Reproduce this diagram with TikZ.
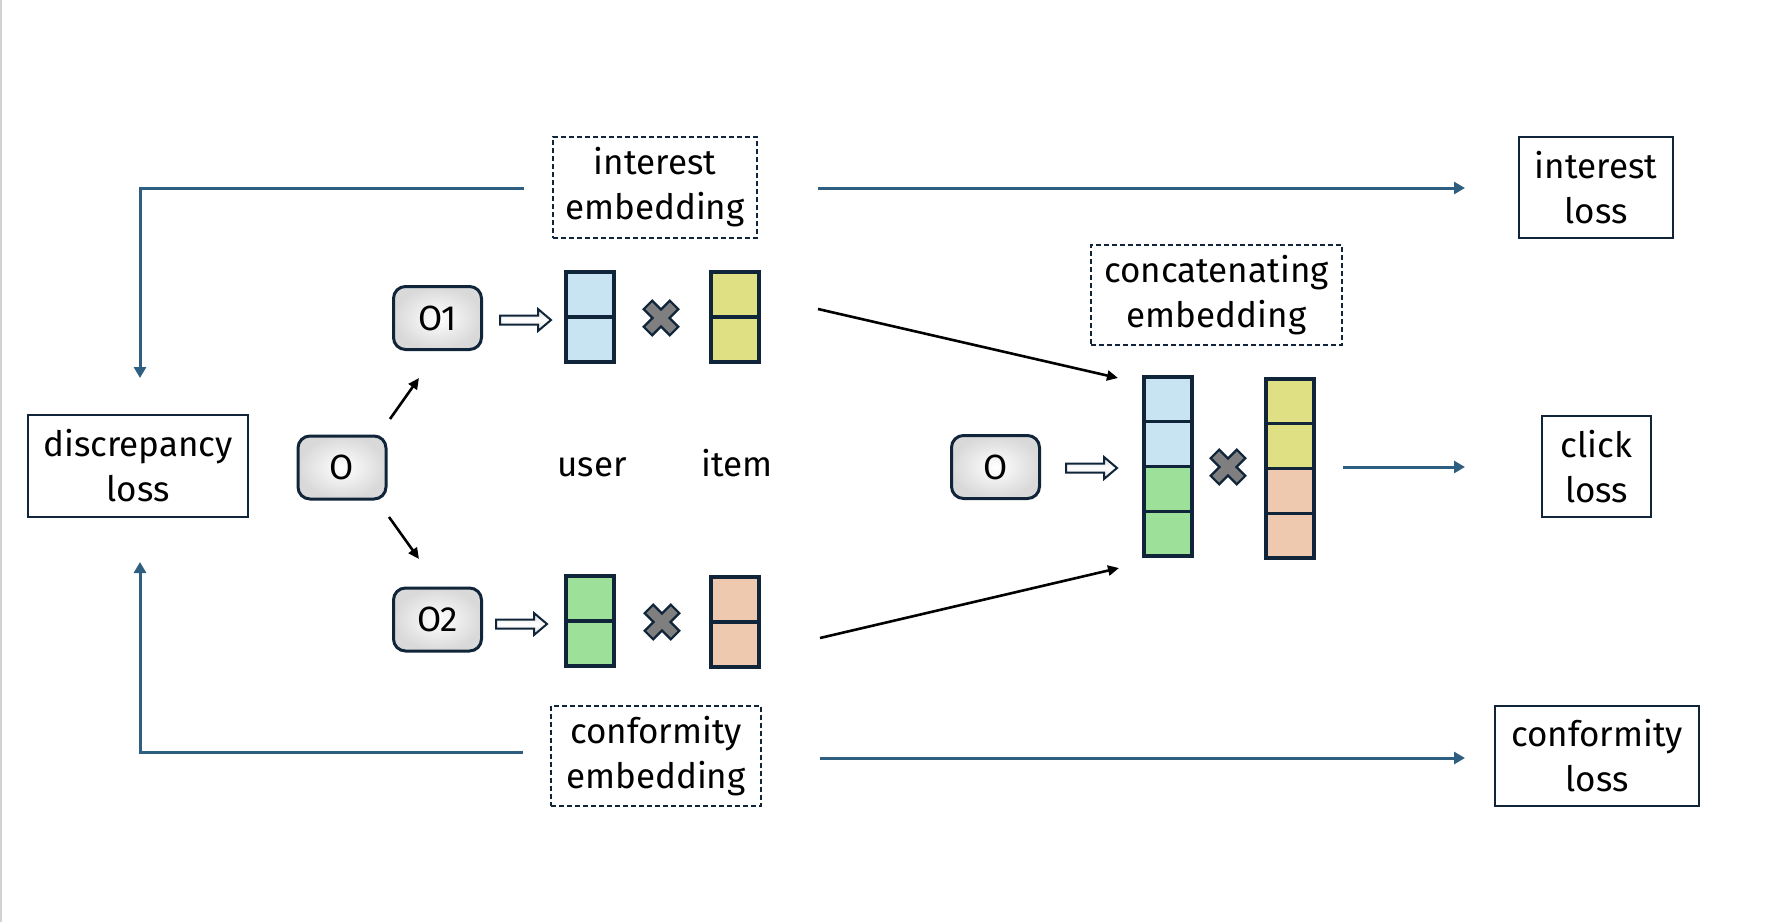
\documentclass[tikz,border=0pt]{standalone}
\usepackage{fontspec}
\setmainfont{Fira Sans}
\usetikzlibrary{arrows.meta}
\definecolor{navy}{HTML}{10243A}
\definecolor{bluel}{HTML}{2F5F80}
\definecolor{cblue}{HTML}{C8E3F1}
\definecolor{cyel}{HTML}{DFDF84}
\definecolor{cgreen}{HTML}{9DE09A}
\definecolor{cpeach}{HTML}{EEC9B0}
\definecolor{xgray}{HTML}{7F7F7F}
\begin{document}
\begin{tikzpicture}[x=0.5pt,y=-0.5pt,
  txt/.style={font=\fontsize{17.5}{22.5}\selectfont, text=black, align=center},
  lossbox/.style={txt, draw=navy, line width=1pt, inner sep=0pt},
  embbox/.style={txt, draw=navy, line width=0.9pt, dash pattern=on 2.5pt off 1.5pt, inner sep=0pt},
  obox/.style={txt, draw=navy, line width=1.5pt, rounded corners=6pt, inner color=white, outer color=gray!30, minimum width=44pt, minimum height=31.5pt, inner sep=0pt},
  cell/.style={draw=navy, line width=1.7pt, minimum width=24pt, minimum height=22.5pt, inner sep=0pt},
  bigcell/.style={cell, minimum height=22.4pt},
  bluearrow/.style={draw=bluel, line width=1.5pt, -{Triangle[length=5.5pt,width=6pt]}},
  blackarrow/.style={draw=black, line width=1.3pt, -{Triangle[length=5.5pt,width=5pt]}},
  xmark/.pic={\draw[navy, line width=1.1pt, fill=xgray, rotate=45] (6,6)--(6,18.5)--(-6,18.5)--(-6,6)--(-18.5,6)--(-18.5,-6)--(-6,-6)--(-6,-18.5)--(6,-18.5)--(6,-6)--(18.5,-6)--(18.5,6)--cycle;},
  hollow/.pic={\draw[navy, line width=1pt, top color=gray!25, bottom color=gray!25, middle color=white] (0,-4.5)--(38,-4.5)--(38,-11)--(51,0)--(38,11)--(38,4.5)--(0,4.5)--cycle;}
]
\fill[white] (0,0) rectangle (1778,922);
\useasboundingbox (0,0) rectangle (1778,922);
\draw[gray!35, line width=1pt] (1,0) -- (1,922);

% left part
\node[lossbox, minimum width=110pt, minimum height=51pt] (disc) at (138,466) {discrepancy\\loss};
\node[obox] (o) at (342,467.5) {O};
\node[obox] (o1) at (437.5,318) {O1};
\node[obox] (o2) at (437.5,619.5) {O2};

% small vectors
\node[cell, fill=cblue] (u1a) at (590,294.5) {};
\node[cell, fill=cblue] (u1b) at (590,339.5) {};
\node[cell, fill=cyel] (i1a) at (735,294.5) {};
\node[cell, fill=cyel] (i1b) at (735,339.5) {};
\node[cell, fill=cgreen] (u2a) at (590,598.5) {};
\node[cell, fill=cgreen] (u2b) at (590,643.5) {};
\node[cell, fill=cpeach] (i2a) at (735,599.5) {};
\node[cell, fill=cpeach] (i2b) at (735,644.5) {};
\pic at (661,318) {xmark};
\pic at (662,622) {xmark};
\pic at (500,320) {hollow};
\pic at (496,624) {hollow};

\node[txt, anchor=base] (ul) at (592,476) {user};
\node[txt, anchor=base] (itl) at (737,476) {item};

% embedding labels
\node[embbox, minimum width=102pt, minimum height=50.5pt] (ie) at (655,187.5) {interest\\embedding};
\node[embbox, minimum width=105pt, minimum height=50pt] (ce) at (656,756) {conformity\\embedding};
\node[embbox, minimum width=125.5pt, minimum height=50pt] (cat) at (1216.5,295) {concatenating\\embedding};

% concatenated vectors
\node[obox] (o3) at (995.5,467) {O};
\pic at (1066,468) {hollow};
\node[bigcell, fill=cblue] (c1) at (1168,399.4) {};
\node[bigcell, fill=cblue] (c2) at (1168,444.1) {};
\node[bigcell, fill=cgreen] (c3) at (1168,488.9) {};
\node[bigcell, fill=cgreen] (c4) at (1168,533.6) {};
\node[bigcell, fill=cyel] (d1) at (1290,401.4) {};
\node[bigcell, fill=cyel] (d2) at (1290,446.1) {};
\node[bigcell, fill=cpeach] (d3) at (1290,490.9) {};
\node[bigcell, fill=cpeach] (d4) at (1290,535.6) {};
\pic at (1228,467) {xmark};

% losses
\node[lossbox, minimum width=77pt, minimum height=50.5pt] (iloss) at (1596,187.5) {interest\\loss};
\node[lossbox, minimum width=54.5pt, minimum height=50.5pt] (closs) at (1596.5,466.5) {click\\loss};
\node[lossbox, minimum width=102pt, minimum height=50pt] (cfloss) at (1597,756) {conformity\\loss};

% connector end points
\coordinate (ieL) at (524,188);
\coordinate (dtop) at (140,378);
\coordinate (ceL) at (523,752);
\coordinate (dbot) at (140,562);
\coordinate (ieR) at (818,188);
\coordinate (ilossL) at (1465,188);
\coordinate (catR) at (1343,467);
\coordinate (clossL) at (1465,467);
\coordinate (ceR) at (820,758);
\coordinate (cflossL) at (1465,758);
\coordinate (a1s) at (818,309);
\coordinate (a1e) at (1118,378);
\coordinate (a2s) at (820,638);
\coordinate (a2e) at (1119,568);
\coordinate (ous) at (390,419);
\coordinate (oue) at (419,378);
\coordinate (ods) at (389,517);
\coordinate (ode) at (419,559);

\draw[bluearrow] (ieL) -| (dtop);
\draw[bluearrow] (ceL) -| (dbot);
\draw[bluearrow] (ieR) -- (ilossL);
\draw[bluearrow] (catR) -- (clossL);
\draw[bluearrow] (ceR) -- (cflossL);
\draw[blackarrow] (a1s) -- (a1e);
\draw[blackarrow] (a2s) -- (a2e);
\draw[blackarrow] (ous) -- (oue);
\draw[blackarrow] (ods) -- (ode);
\end{tikzpicture}
\end{document}
